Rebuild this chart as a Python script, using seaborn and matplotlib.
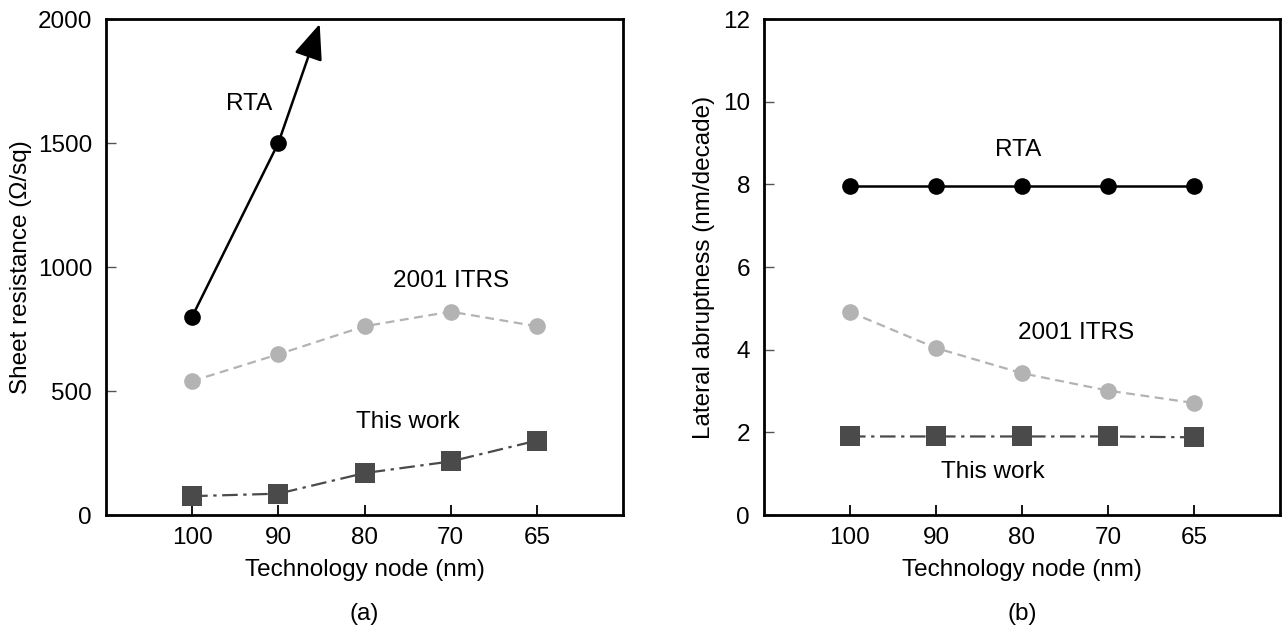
import matplotlib
matplotlib.use("Agg")
import matplotlib.pyplot as plt
import seaborn as sns

sns.set_theme(style="white")
plt.rcParams['font.family'] = ['Liberation Sans', 'DejaVu Sans']
plt.rcParams['text.color'] = 'black'
plt.rcParams['axes.labelcolor'] = 'black'
plt.rcParams['xtick.color'] = 'black'
plt.rcParams['ytick.color'] = 'black'
plt.rcParams['xtick.bottom'] = True
plt.rcParams['ytick.left'] = True
plt.rcParams['xtick.direction'] = 'in'
plt.rcParams['ytick.direction'] = 'in'

nodes = ["100", "90", "80", "70", "65"]
pos = [1, 2, 3, 4, 5]

# Panel (a): sheet resistance (ohm/sq)
rta_a = [800, 1500]
itrs_a = [540, 648, 761, 820, 761]
work_a = [76, 86, 169, 216, 300]
rta_arrow_end = (2.48, 1980)

# Panel (b): lateral abruptness (nm/decade)
rta_b = [7.95, 7.95, 7.95, 7.95, 7.95]
itrs_b = [4.91, 4.04, 3.43, 3.01, 2.71]
work_b = [1.9, 1.9, 1.9, 1.9, 1.88]

fig = plt.figure(figsize=(12.84, 6.32), dpi=100)
ax1 = fig.add_axes([106/1284, 117/632, 517/1284, 496/632])
ax2 = fig.add_axes([764/1284, 117/632, 516/1284, 496/632])

BLACK = "#000000"
LGRAY = "#b3b3b3"
DGRAY = "#4a4a4a"
FS = 17.5


def draw_common(ax, ylim, yticks, ylabel, sub, ylpad):
    ax.set_xlim(0, 6)
    ax.set_ylim(*ylim)
    ax.set_xticks(pos)
    ax.set_xticklabels(nodes, fontsize=FS)
    ax.set_yticks(yticks)
    ax.set_yticklabels([str(t) for t in yticks], fontsize=FS)
    ax.tick_params(axis='x', which='major', bottom=True, direction='in', length=7, width=1.3,
                   color='black', pad=9)
    ax.tick_params(axis='y', which='major', left=True, direction='in', length=7, width=1.0,
                   color='#555555', pad=10)
    ax.set_xlabel("Technology node (nm)", fontsize=FS, labelpad=7)
    ax.set_ylabel(ylabel, fontsize=FS, labelpad=ylpad)
    for s in ax.spines.values():
        s.set_visible(True)
        s.set_color('black')
        s.set_linewidth(2.0)
    ax.grid(False)
    ax.text(0.5, -0.2, sub, transform=ax.transAxes, ha='center', va='center', fontsize=FS)


# Panel (a)
sns.lineplot(x=pos, y=itrs_a, ax=ax1, color=LGRAY, linestyle=(0, (4, 2.5)), linewidth=1.6,
             marker='o', markersize=12, markeredgewidth=0, markerfacecolor=LGRAY)
sns.lineplot(x=pos, y=work_a, ax=ax1, color=DGRAY, linestyle=(0, (7, 2.5, 1.5, 2.5)), linewidth=1.6,
             marker='s', markersize=14, markeredgewidth=0, markerfacecolor=DGRAY)
ax1.annotate("", xy=rta_arrow_end, xytext=(pos[1], rta_a[1]),
             arrowprops=dict(arrowstyle='-|>,head_length=1.1,head_width=0.45', mutation_scale=20,
                             color=BLACK, lw=1.8, shrinkA=0, shrinkB=0))
sns.lineplot(x=pos[:2], y=rta_a, ax=ax1, color=BLACK, linewidth=1.8,
             marker='o', markersize=12, markeredgewidth=0, markerfacecolor=BLACK)
ax1.text(1.66, 1659, "RTA", ha='center', va='center', fontsize=FS)
ax1.text(4.0, 945, "2001 ITRS", ha='center', va='center', fontsize=FS)
ax1.text(3.5, 377, "This work", ha='center', va='center', fontsize=FS)
draw_common(ax1, (0, 2000), [0, 500, 1000, 1500, 2000], "Sheet resistance (\u03a9/sq)", "(a)", 4)

# Panel (b)
sns.lineplot(x=pos, y=rta_b, ax=ax2, color=BLACK, linewidth=1.8,
             marker='o', markersize=12, markeredgewidth=0, markerfacecolor=BLACK)
sns.lineplot(x=pos, y=itrs_b, ax=ax2, color=LGRAY, linestyle=(0, (4, 2.5)), linewidth=1.6,
             marker='o', markersize=12, markeredgewidth=0, markerfacecolor=LGRAY)
sns.lineplot(x=pos, y=work_b, ax=ax2, color=DGRAY, linestyle=(0, (7, 2.5, 1.5, 2.5)), linewidth=1.6,
             marker='s', markersize=14, markeredgewidth=0, markerfacecolor=DGRAY)
ax2.text(2.95, 8.83, "RTA", ha='center', va='center', fontsize=FS)
ax2.text(3.63, 4.40, "2001 ITRS", ha='center', va='center', fontsize=FS)
ax2.text(2.66, 1.04, "This work", ha='center', va='center', fontsize=FS)
draw_common(ax2, (0, 12), [0, 2, 4, 6, 8, 10, 12], "Lateral abruptness (nm/decade)", "(b)", 6)

fig.savefig("out.png", dpi=100)
